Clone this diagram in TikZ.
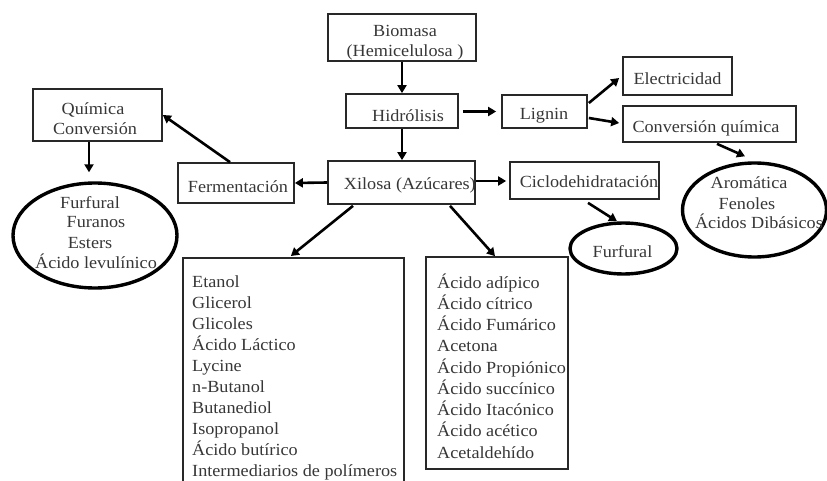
\documentclass[tikz,border=0pt]{standalone}
\usepackage{fontspec}
\setmainfont{Liberation Serif}[FakeStretch=1.07]
\usetikzlibrary{arrows.meta,calc,shapes.geometric}
\definecolor{txtc}{RGB}{55,55,55}
\definecolor{linec}{RGB}{40,40,40}
\tikzset{
  box/.style={draw=linec,line width=1.7pt,rectangle,inner sep=0pt},
  oval/.style={draw=black,line width=3.4pt,ellipse,inner sep=0pt},
  txt/.style={text=txtc,inner sep=0pt,font=\fontsize{17}{21}\selectfont},
  arr/.style={draw=black,line width=2.6pt,-{Triangle[length=8pt,width=9pt]}},
}
\begin{document}
\begin{tikzpicture}[x=1pt,y=-1pt]
\useasboundingbox (0,0) rectangle (827,481);
\clip (0,0) rectangle (827,481);
% boxes
\node[box,minimum width=148,minimum height=47] (bio) at (402,37.5) {};
\node[box,minimum width=112,minimum height=34] (hid) at (402,111) {};
\node[box,minimum width=147,minimum height=43] (xil) at (401.5,182.5) {};
\node[box,minimum width=116,minimum height=40] (fer) at (236,183) {};
\node[box,minimum width=129,minimum height=52] (qui) at (97.5,115) {};
\node[box,minimum width=85,minimum height=33] (lig) at (544.5,111.5) {};
\node[box,minimum width=109,minimum height=38] (ele) at (677.5,76) {};
\node[box,minimum width=173,minimum height=36] (con) at (709.5,124) {};
\node[box,minimum width=149,minimum height=37] (cic) at (584.5,180.5) {};
\node[box,minimum width=142,minimum height=212] (rlist) at (497,363) {};
\node[box,minimum width=221,minimum height=263,anchor=north west] (llist) at (182,257) {};
% ovals
\node[oval,minimum width=164,minimum height=105] (lell) at (95,235.5) {};
\node[oval,minimum width=144,minimum height=94] (rell) at (754.5,210) {};
\node[oval,minimum width=107,minimum height=51] (fell) at (623.5,248.5) {};
% texts
\node[txt,anchor=base] (bio1) at (405,37) {Biomasa};
\node[txt,anchor=base] (bio2) at (405,57) {(Hemicelulosa )};
\node[txt,anchor=base] (hidt) at (408,122) {Hidrólisis};
\node[txt,anchor=base east] (xilt) at (476,190) {Xilosa (Azúcares)};
\node[txt,anchor=base] (fert) at (238,193) {Fermentación};
\node[txt,anchor=base] (qui1) at (93,115) {Química};
\node[txt,anchor=base] (qui2) at (95,135) {Conversión};
\node[txt,anchor=base] (ligt) at (544,120) {Lignin};
\node[txt,anchor=base] (elet) at (677.5,85) {Electricidad};
\node[txt,anchor=base] (cont) at (706,133) {Conversión química};
\node[txt,anchor=base] (cict) at (589,188) {Ciclodehidratación};
\node[txt,anchor=base] (fellt) at (622.5,257) {Furfural};
\node[txt,anchor=base] (le1) at (90,208) {Furfural};
\node[txt,anchor=base] (le2) at (96,228) {Furanos};
\node[txt,anchor=base] (le3) at (90,248) {Esters};
\node[txt,anchor=base] (le4) at (96,268) {Ácido levulínico};
\node[txt,anchor=base] (re1) at (749,189) {Aromática};
\node[txt,anchor=base] (re2) at (747,210) {Fenoles};
\node[txt,anchor=base] (re3) at (759,229) {Ácidos Dibásicos};
\foreach \t [count=\i] in {Etanol,Glicerol,Glicoles,Ácido Láctico,Lycine,n-Butanol,Butanediol,Isopropanol,Ácido butírico,Intermediarios de polímeros}
  \node[txt,anchor=base west] (ll\i) at (192,{287+21.1*(\i-1)}) {\t};
\foreach \t [count=\i] in {Ácido adípico,Ácido cítrico,Ácido Fumárico,Acetona,Ácido Propiónico,Ácido succínico,Ácido Itacónico,Ácido acético,Acetaldehído}
  \node[txt,anchor=base west] (rl\i) at (437,{288+21.25*(\i-1)}) {\t};
% arrows
\draw[arr] (bio.south) -- (hid.north);
\draw[arr] (hid.south) -- (hid.south |- xil.north);
\draw[arr] (xil.west) -- (fer.east);
\draw[arr] ($(fer.north)+(-6,0)$) -- (qui.east);
\draw[arr] ($(qui.south)+(-8.5,0)$) -- ($(lell.north)+(-6,-9)$);
\draw[arr] ($(hid.east)+(4,0.5)$) -- ($(lig.west)+(-5,0)$);
\draw[arr] ($(lig.east)+(1,-8.5)$) -- ($(ele.west)+(-3,2)$);
\draw[arr] ($(lig.east)+(1,6.5)$) -- ($(con.west)+(-3,-1)$);
\draw[arr] ($(con.south)+(7.5,1)$) -- ($(rell.north)+(-9.5,-5)$);
\draw[arr] ($(xil.east)+(0,-1.5)$) -- ($(cic.west)+(-3,0.5)$);
\draw[arr] ($(cic.south)+(3.5,3)$) -- ($(fell.north)+(-6.5,0)$);
\draw[arr] ($(xil.south)+(48.5,1)$) -- ($(rlist.north)+(-2,0)$);
\draw[arr] ($(xil.south)+(-48.5,1)$) -- ($(llist.north)+(-2.5,-1)$);
\end{tikzpicture}
\end{document}
